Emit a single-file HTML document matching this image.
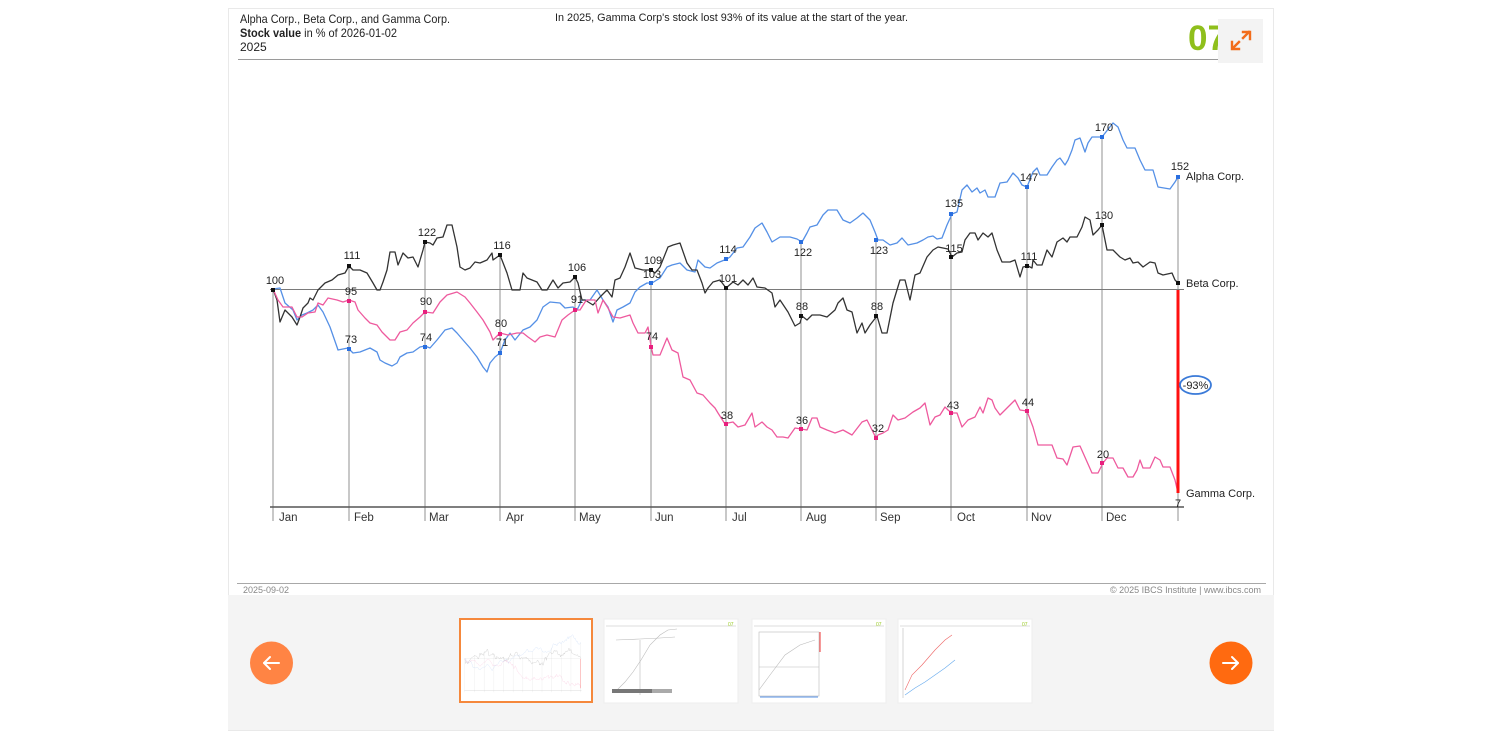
<!DOCTYPE html>
<html><head><meta charset="utf-8"><style>
html,body{margin:0;padding:0;background:#fff;}
svg{display:block;font-family:"Liberation Sans",Arial,sans-serif;}
</style></head><body>
<svg width="1500" height="741" viewBox="0 0 1500 741" xmlns="http://www.w3.org/2000/svg">
<rect x="0" y="0" width="1500" height="741" fill="#fff"/>
<!-- card -->
<rect x="228.5" y="8.5" width="1045" height="722" fill="#fff" stroke="#e9e9e9"/>
<rect x="228" y="595" width="1046" height="135" fill="#f4f4f4"/>

<!-- header -->
<text x="240" y="23" font-size="12" fill="#222" textLength="210" lengthAdjust="spacingAndGlyphs">Alpha Corp., Beta Corp., and Gamma Corp.</text>
<text x="240" y="37" font-size="12" fill="#222" textLength="157" lengthAdjust="spacingAndGlyphs"><tspan font-weight="bold">Stock value</tspan> in % of  2026-01-02</text>
<text x="240" y="51" font-size="12" fill="#222">2025</text>
<text x="555" y="21" font-size="11" fill="#222" textLength="353" lengthAdjust="spacingAndGlyphs">In 2025, Gamma Corp's stock lost 93% of its value at the start of the year.</text>
<line x1="238" y1="59.5" x2="1220" y2="59.5" stroke="#9a9a9a" stroke-width="1"/>
<text x="1188" y="50" font-size="35" font-weight="bold" fill="#8fbf1c">07</text>
<rect x="1218" y="19" width="45" height="44" fill="#f3f3f3"/>
<g stroke="#f26c1a" stroke-width="2.4" fill="none" stroke-linecap="square">
<line x1="1233" y1="48" x2="1239" y2="42"/>
<polyline points="1232,42 1232,49 1239,49"/>
<line x1="1243" y1="38" x2="1249" y2="32"/>
<polyline points="1243,32 1250,32 1250,39"/>
</g>

<!-- chart -->
<g id="chartlines">
<!-- vertical lines -->
<g stroke="#929292" stroke-width="1">
<line x1="273" y1="290" x2="273" y2="521"/>
<line x1="349" y1="266" x2="349" y2="521"/>
<line x1="425" y1="242" x2="425" y2="521"/>
<line x1="500" y1="255" x2="500" y2="521"/>
<line x1="575" y1="277" x2="575" y2="521"/>
<line x1="651" y1="283" x2="651" y2="521"/>
<line x1="726" y1="288" x2="726" y2="521"/>
<line x1="801" y1="242" x2="801" y2="521"/>
<line x1="876" y1="240" x2="876" y2="521"/>
<line x1="951" y1="214" x2="951" y2="521"/>
<line x1="1027" y1="187" x2="1027" y2="521"/>
<line x1="1102" y1="137" x2="1102" y2="521"/>
<line x1="1178" y1="177" x2="1178" y2="521"/>
</g>
<line x1="270" y1="289.5" x2="1184" y2="289.5" stroke="#7a7a7a" stroke-width="1"/>
<line x1="270" y1="507" x2="1184" y2="507" stroke="#555" stroke-width="1.4"/>

<polyline fill="none" stroke="#5590e6" stroke-width="1.3" stroke-linejoin="round" points="273,289 280,288 285,303 293,310 297,320 302,315 307,313 313,310 318,305 323,312 330,327 337,347 338,350 348,348 353,353 360,352 370,348 377,352 380,360 385,363 392,366 397,363 400,357 407,353 413,352 420,347 425,346 430,348 437,340 445,330 452,328 457,333 463,340 470,348 477,357 483,367 487,372 490,363 495,357 500,353 505,340 510,333 515,340 523,330 530,327 537,320 543,307 550,302 560,303 565,308 573,307 577,310 582,300 590,300 597,290 603,300 608,307 613,322 617,310 623,307 630,303 635,292 640,287 647,283 652,283 660,278 667,267 672,265 680,263 687,270 695,272 698,260 705,267 710,268 717,263 727,259 730,257 737,248 743,247 750,237 755,228 762,223 767,232 772,242 780,237 790,237 797,239 802,242 807,233 810,227 817,225 823,215 828,210 837,210 843,220 850,223 857,218 863,213 870,220 875,232 878,240 883,240 890,245 897,243 902,238 908,245 917,243 923,240 928,237 933,236 937,239 942,238 947,225 952,214 957,212 962,190 967,185 972,192 977,188 980,193 985,190 988,197 995,197 1000,183 1007,182 1013,173 1018,178 1022,185 1027,187 1033,172 1037,168 1040,175 1047,175 1052,167 1057,160 1060,158 1065,165 1068,160 1072,150 1075,140 1080,138 1085,152 1088,143 1092,137 1102,137 1113,123 1118,127 1123,140 1127,148 1135,148 1140,160 1145,170 1153,170 1158,187 1170,189 1175,182 1178,177"/>

<polyline fill="none" stroke="#333" stroke-width="1.3" stroke-linejoin="round" points="273,289 277,300 280,322 285,310 292,317 297,325 300,317 303,308 308,303 310,298 313,300 318,290 325,283 332,280 338,275 345,273 349,266 353,270 360,270 367,273 373,283 377,290 380,290 383,282 387,270 390,252 395,252 398,265 403,253 408,258 413,257 418,267 423,250 425,242 430,243 433,245 437,238 443,237 447,225 452,225 457,247 460,267 465,270 470,268 475,262 480,263 487,260 492,253 493,260 500,255 507,273 512,290 520,290 523,273 527,278 532,280 537,282 542,290 547,290 553,280 558,288 563,283 570,282 575,277 578,283 582,300 585,300 593,305 600,297 607,290 612,297 615,280 620,278 625,267 630,253 635,268 643,270 651,270 655,273 660,267 668,247 673,245 680,243 687,263 692,270 697,270 702,283 705,293 708,288 713,282 720,280 726,288 733,282 738,285 743,280 748,285 753,278 757,287 765,288 772,293 775,307 780,300 788,312 795,326 800,323 802,316 807,320 812,315 820,315 827,317 835,310 838,303 843,298 847,310 852,312 857,333 862,323 865,333 870,325 877,316 882,333 887,333 893,303 900,280 905,280 910,300 915,275 920,273 927,257 933,250 938,247 943,248 948,249 952,257 957,253 962,252 965,240 970,233 975,233 978,240 983,233 988,237 992,233 997,250 1002,262 1010,262 1015,260 1020,277 1023,267 1028,266 1032,268 1033,260 1037,265 1042,265 1047,250 1052,257 1057,242 1063,238 1067,242 1070,237 1077,237 1082,227 1085,217 1090,220 1093,235 1098,230 1102,225 1107,250 1113,250 1120,257 1125,260 1130,258 1133,263 1138,262 1143,267 1150,262 1155,263 1158,273 1163,275 1172,273 1175,280 1178,283"/>

<polyline fill="none" stroke="#ee5a9e" stroke-width="1.3" stroke-linejoin="round" points="273,289 278,300 283,307 292,307 297,317 302,317 308,313 315,312 318,303 323,305 328,298 337,300 343,302 349,300 355,302 358,310 365,318 370,323 377,325 382,332 390,340 395,340 400,332 407,330 413,323 420,317 425,312 433,313 440,302 447,295 457,292 465,297 470,303 477,312 483,320 490,332 493,340 500,333 508,335 517,333 523,333 528,337 535,342 540,337 547,335 555,337 562,320 568,315 575,310 580,310 585,302 587,300 595,300 598,313 603,300 608,308 613,317 620,318 630,315 633,323 638,333 645,333 648,327 651,346 653,355 660,355 667,338 672,350 678,353 683,377 690,380 697,393 703,395 710,403 715,408 718,413 725,424 728,423 733,422 738,427 745,425 752,413 755,427 762,422 767,427 772,430 777,437 783,437 788,438 795,428 801,429 807,430 812,418 817,418 820,427 827,430 835,433 843,430 852,435 862,422 867,420 872,430 876,438 878,435 883,433 888,430 893,415 898,420 905,418 913,412 920,408 925,403 930,425 935,417 940,415 945,407 948,410 952,413 957,413 962,427 968,420 975,417 980,407 983,413 988,398 992,400 995,408 1000,415 1007,408 1015,400 1020,410 1027,411 1033,427 1038,445 1052,445 1057,458 1063,459 1067,465 1073,447 1080,446 1092,473 1098,473 1103,463 1107,458 1113,458 1118,468 1123,468 1128,477 1133,477 1137,470 1140,460 1143,468 1150,468 1155,457 1160,460 1163,467 1170,467 1175,480 1178,493"/>

<line x1="1178" y1="290" x2="1178" y2="493" stroke="#ff1010" stroke-width="3"/>
</g>

<!-- markers -->
<g fill="#111">
<rect x="271" y="288" width="4" height="4"/><rect x="347" y="264" width="4" height="4"/><rect x="423" y="240" width="4" height="4"/><rect x="498" y="253" width="4" height="4"/><rect x="573" y="275" width="4" height="4"/><rect x="649" y="268" width="4" height="4"/><rect x="724" y="286" width="4" height="4"/><rect x="799" y="314" width="4" height="4"/><rect x="874" y="314" width="4" height="4"/><rect x="949" y="255" width="4" height="4"/><rect x="1025" y="264" width="4" height="4"/><rect x="1100" y="223" width="4" height="4"/><rect x="1176" y="281" width="4" height="4"/>
</g>
<g fill="#2a6fe0">
<rect x="347" y="347" width="4" height="4"/><rect x="423" y="345" width="4" height="4"/><rect x="498" y="351" width="4" height="4"/><rect x="573" y="308" width="4" height="4"/><rect x="649" y="281" width="4" height="4"/><rect x="724" y="257" width="4" height="4"/><rect x="799" y="240" width="4" height="4"/><rect x="874" y="238" width="4" height="4"/><rect x="949" y="212" width="4" height="4"/><rect x="1025" y="185" width="4" height="4"/><rect x="1100" y="135" width="4" height="4"/><rect x="1176" y="175" width="4" height="4"/>
</g>
<g fill="#e8207e">
<rect x="347" y="299" width="4" height="4"/><rect x="423" y="310" width="4" height="4"/><rect x="498" y="332" width="4" height="4"/><rect x="573" y="308" width="4" height="4"/><rect x="649" y="345" width="4" height="4"/><rect x="724" y="422" width="4" height="4"/><rect x="799" y="427" width="4" height="4"/><rect x="874" y="436" width="4" height="4"/><rect x="949" y="411" width="4" height="4"/><rect x="1025" y="409" width="4" height="4"/><rect x="1100" y="461" width="4" height="4"/>
</g>

<!-- value labels -->
<g font-size="11" fill="#222" text-anchor="middle">
<text x="275" y="284">100</text><text x="352" y="259">111</text><text x="427" y="236">122</text><text x="502" y="249">116</text><text x="577" y="271">106</text><text x="653" y="264">109</text><text x="728" y="282">101</text><text x="802" y="310">88</text><text x="877" y="310">88</text><text x="954" y="252">115</text><text x="1029" y="260">111</text><text x="1104" y="219">130</text>
<text x="351" y="343">73</text><text x="426" y="341">74</text><text x="502" y="346">71</text><text x="577" y="303">91</text><text x="652" y="278">103</text><text x="728" y="253">114</text><text x="803" y="256">122</text><text x="879" y="254">123</text><text x="954" y="207">135</text><text x="1029" y="181">147</text><text x="1104" y="131">170</text><text x="1180" y="170">152</text>
<text x="351" y="295">95</text><text x="426" y="305">90</text><text x="501" y="327">80</text><text x="652" y="340">74</text><text x="727" y="419">38</text><text x="802" y="424">36</text><text x="878" y="432">32</text><text x="953" y="409">43</text><text x="1028" y="406">44</text><text x="1103" y="458">20</text><text x="1178" y="507">7</text>
</g>

<!-- series labels -->
<g font-size="11" fill="#222">
<text x="1186" y="180">Alpha Corp.</text>
<text x="1186" y="287">Beta Corp.</text>
<text x="1186" y="497">Gamma Corp.</text>
</g>

<!-- -93% -->
<ellipse cx="1195.5" cy="385" rx="15.5" ry="9" fill="#fff" stroke="#3a7ad8" stroke-width="1.8"/>
<text x="1195.5" y="389" font-size="11" fill="#222" text-anchor="middle">-93%</text>

<!-- month labels -->
<g font-size="11.5" fill="#333">
<text x="279" y="521">Jan</text><text x="354" y="521">Feb</text><text x="429" y="521">Mar</text><text x="506" y="521">Apr</text><text x="579" y="521">May</text><text x="655" y="521">Jun</text><text x="732" y="521">Jul</text><text x="806" y="521">Aug</text><text x="880" y="521">Sep</text><text x="957" y="521">Oct</text><text x="1031" y="521">Nov</text><text x="1106" y="521">Dec</text>
</g>

<!-- footer -->
<line x1="237" y1="583.5" x2="1266" y2="583.5" stroke="#a8a8a8" stroke-width="1"/>
<text x="243" y="593" font-size="9" fill="#888">2025-09-02</text>
<text x="1261" y="593" font-size="9" fill="#888" text-anchor="end">© 2025 IBCS Institute | www.ibcs.com</text>

<!-- nav buttons -->
<circle cx="271.5" cy="663" r="21.5" fill="#ff8444"/>
<g stroke="#fff" stroke-width="2" fill="none" stroke-linecap="round" stroke-linejoin="round">
<line x1="264" y1="663" x2="279" y2="663"/><polyline points="270,657 264,663 270,669"/>
</g>
<circle cx="1231" cy="663" r="21.5" fill="#ff6a10"/>
<g stroke="#fff" stroke-width="2" fill="none" stroke-linecap="round" stroke-linejoin="round">
<line x1="1223" y1="663" x2="1238" y2="663"/><polyline points="1232,657 1238,663 1232,669"/>
</g>

<!-- thumbnails -->
<rect x="459" y="618" width="134" height="85" fill="#fff"/>
<g transform="translate(459,618) scale(0.1281,0.1448) translate(-228,-8)" opacity="0.55">
<use href="#chartlines"/>
</g>
<rect x="460" y="619" width="132" height="83" fill="none" stroke="#f5883c" stroke-width="2"/>

<rect x="604" y="619" width="134" height="84" fill="#fff" stroke="#eee"/>
<g stroke="#bbb" stroke-width="0.6" fill="none">
<line x1="606" y1="626" x2="736" y2="626"/>
<polyline points="617,690 625,682 633,672 641,660 650,645 660,635 668,630 677,629"/>
<line x1="640" y1="640" x2="640" y2="695"/>
<polyline points="616,640 640,639 660,638 675,637"/>
</g>
<g fill="#777"><rect x="612" y="689" width="40" height="4"/><rect x="652" y="689" width="20" height="4" fill="#aaa"/></g>
<text x="728" y="626" font-size="5" fill="#9c2">07</text>

<rect x="752" y="619" width="134" height="84" fill="#fff" stroke="#eee"/>
<g stroke="#bbb" stroke-width="0.6" fill="none">
<line x1="754" y1="626" x2="884" y2="626"/>
<rect x="759" y="632" width="60" height="64"/>
<line x1="759" y1="667" x2="819" y2="667"/>
<polyline points="759,690 770,675 785,655 800,645 815,640"/>
</g>
<line x1="760" y1="697" x2="818" y2="697" stroke="#5590e6" stroke-width="1"/>
<line x1="820" y1="632" x2="820" y2="652" stroke="#e33" stroke-width="1"/>
<text x="876" y="626" font-size="5" fill="#9c2">07</text>

<rect x="898" y="619" width="134" height="84" fill="#fff" stroke="#eee"/>
<g stroke-width="0.6" fill="none">
<line x1="900" y1="626" x2="1030" y2="626" stroke="#bbb"/>
<line x1="903" y1="628" x2="903" y2="698" stroke="#bbb"/>
<polyline points="905,690 912,675 922,665 935,650 945,640 952,635" stroke="#e66"/>
<polyline points="905,695 915,688 925,682 935,675 945,668 955,660" stroke="#6ae"/>
</g>
<text x="1022" y="626" font-size="5" fill="#9c2">07</text>
</svg>
</body></html>
